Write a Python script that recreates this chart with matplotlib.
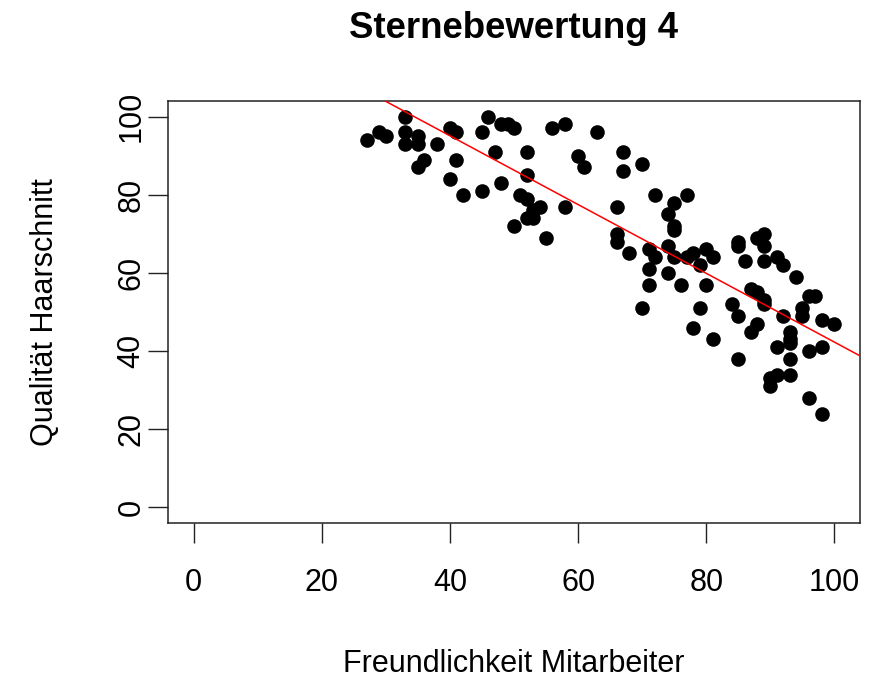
import matplotlib
matplotlib.use("Agg")
import matplotlib.pyplot as plt
import numpy as np

plt.rcParams["font.family"] = ["Liberation Sans", "DejaVu Sans"]

# Freundlichkeit Mitarbeiter (x) / Qualitaet Haarschnitt (y)
freundlichkeit = [
	27, 29, 30, 33, 33, 33, 35, 35, 38, 36, 35, 40, 41, 41, 40, 42, 45, 46, 45, 47,
	48, 48, 49, 50, 52, 52, 51, 52, 54, 53, 52, 53, 50, 55, 56, 58, 58, 60, 61, 63,
	67, 67, 70, 72, 77, 75, 74, 75, 75, 66, 66, 66, 68, 71, 72, 74, 75, 77, 78, 79,
	80, 81, 71, 74, 71, 76, 80, 70, 79, 78, 81,
	85, 85, 88, 89, 89, 86, 89, 91, 92, 94, 87, 88, 89, 89, 84, 85, 92, 95, 95, 96,
	97, 98, 100, 88, 87, 93, 93, 93, 91, 96, 98, 85, 93, 91, 90, 90, 93, 96, 98,
]
qualitaet = [
	94, 96, 95, 100, 96, 93, 95, 93, 93, 89, 87, 97, 96, 89, 84, 80, 96, 100, 81, 91,
	83, 98, 98, 97, 91, 85, 80, 79, 77, 76, 74, 74, 72, 69, 97, 98, 77, 90, 87, 96,
	91, 86, 88, 80, 80, 78, 75, 72, 71, 77, 70, 68, 65, 66, 64, 67, 64, 64, 65, 62,
	66, 64, 61, 60, 57, 57, 57, 51, 51, 46, 43,
	68, 67, 69, 70, 67, 63, 63, 64, 62, 59, 56, 55, 53, 52, 52, 49, 49, 51, 49, 54,
	54, 48, 47, 47, 45, 45, 43, 42, 41, 40, 41, 38, 38, 34, 33, 31, 34, 28, 24,
]

# regression line (abline of lm), coefficients
intercept = 130.3
slope = -0.88

titel = "Sternebewertung 4"
x_label = "Freundlichkeit Mitarbeiter"
y_label = "Qualität Haarschnitt"
ticks = [0, 20, 40, 60, 80, 100]

W, H = 879, 678
fig = plt.figure(figsize=(W / 100, H / 100), dpi=100)
ax = fig.add_axes([168 / W, 1 - 523 / H, (860 - 168) / W, (523 - 101) / H])

ax.plot(freundlichkeit, qualitaet, "o", color="black", markersize=10.5,
		markeredgewidth=0, zorder=3)
ax.axline((0, intercept), slope=slope, color="red", linewidth=1.1, zorder=4)

ax.set_xlim(-4, 104)
ax.set_ylim(-4, 104)
ax.set_xticks(ticks)
ax.set_yticks(ticks)
ax.tick_params(axis="both", direction="out", length=14.5, width=1.0, color="#222222",
			   labelsize=22)
ax.tick_params(axis="x", pad=18)
ax.tick_params(axis="y", pad=1)
for lab in ax.get_yticklabels():
	lab.set_rotation(90)
	lab.set_va("center")
for sp in ax.spines.values():
	sp.set_linewidth(1.1)
	sp.set_color("#222222")

cx = (168 + 860) / 2 / W
fig.text(cx, 1 - 28 / H, titel, ha="center", va="center", fontsize=26.4, fontweight="bold")
fig.text(cx, 1 - 664 / H, x_label, ha="center", va="center", fontsize=22)
fig.text(45 / W, 1 - 312 / H, y_label, ha="center", va="center", fontsize=22, rotation=90)

fig.savefig("out.png", dpi=100)
